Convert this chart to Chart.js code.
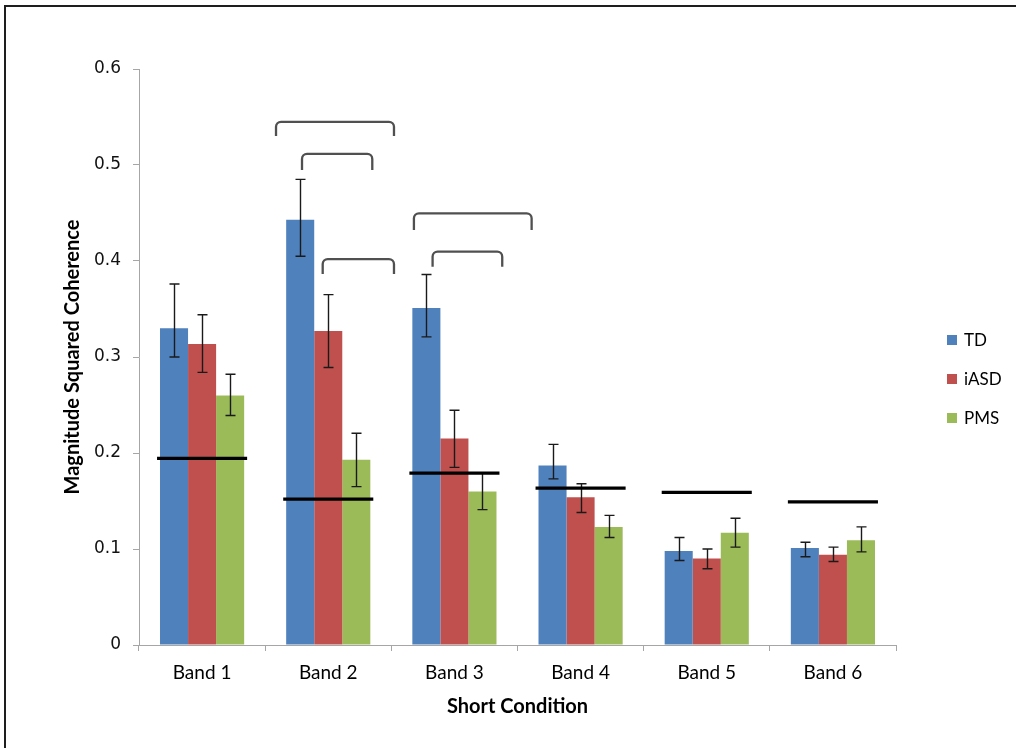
<!DOCTYPE html>
<html>
<head>
<meta charset="utf-8">
<script src="https://cdn.jsdelivr.net/npm/chart.js@4.4.1/dist/chart.umd.min.js"></script>
<style>
  html, body { margin: 0; padding: 0; background: #fff; overflow: hidden; }
  #wrap { position: relative; width: 1016px; height: 748px; }
  #c { position: absolute; left: 0; top: 0; }
  #frame {
    position: absolute; left: 4px; top: 5px; width: 1100px; height: 800px;
    border-left: 2px solid #1e1e1e; border-top: 2px solid #1e1e1e;
    pointer-events: none;
  }
</style>
</head>
<body>
<div id="wrap">
  <canvas id="c" width="1016" height="748"></canvas>
  <div id="frame"></div>
</div>
<script>
// Frequency bands (short condition)
const bands = ['Band 1', 'Band 2', 'Band 3', 'Band 4', 'Band 5', 'Band 6'];

// Group means of magnitude squared coherence
const tdMean   = [0.330, 0.443, 0.351, 0.187, 0.098, 0.101];
const iasdMean = [0.3135, 0.327, 0.215, 0.154, 0.090, 0.094];
const pmsMean  = [0.260, 0.193, 0.160, 0.123, 0.117, 0.109];

// Error bar limits (upper / lower)
const tdHigh   = [0.376, 0.485, 0.386, 0.209, 0.112, 0.107];
const tdLow    = [0.300, 0.405, 0.321, 0.173, 0.088, 0.092];
const iasdHigh = [0.344, 0.365, 0.2445, 0.168, 0.100, 0.102];
const iasdLow  = [0.284, 0.289, 0.185, 0.138, 0.0795, 0.087];
const pmsHigh  = [0.282, 0.2205, 0.179, 0.135, 0.132, 0.123];
const pmsLow   = [0.239, 0.165, 0.141, 0.112, 0.102, 0.097];

// Significance threshold per band
const threshold = [0.1945, 0.152, 0.179, 0.1635, 0.159, 0.149];

// Significance brackets: band index, start/end offset (in category widths), top value, leg end value
const bracketBand = [1, 1, 1, 2, 2];
const bracketFrom = [-0.414, -0.208, -0.044, -0.321, -0.173];
const bracketTo   = [0.521, 0.349, 0.521, 0.612, 0.379];
const bracketTop  = [0.545, 0.5115, 0.402, 0.4497, 0.4097];
const bracketLeg  = [0.5302, 0.4948, 0.3865, 0.4323, 0.394];

// Y axis tick values
const yTicks = [0, 0.1, 0.2, 0.3, 0.4, 0.5, 0.6];

const errLimits = [[tdHigh, tdLow], [iasdHigh, iasdLow], [pmsHigh, pmsLow]];

const errorBarPlugin = {
  id: 'errorBars',
  afterDatasetsDraw(chart) {
    const ctx = chart.ctx;
    const y = chart.scales.y;
    ctx.save();
    ctx.strokeStyle = '#1a1a1a';
    ctx.lineWidth = 1.4;
    chart.data.datasets.forEach((ds, i) => {
      const meta = chart.getDatasetMeta(i);
      const [hi, lo] = errLimits[i];
      meta.data.forEach((bar, j) => {
        const x = Math.round(bar.x) + 0.5;
        const yh = y.getPixelForValue(hi[j]);
        const yl = y.getPixelForValue(lo[j]);
        ctx.beginPath();
        ctx.moveTo(x, yh); ctx.lineTo(x, yl);
        ctx.moveTo(x - 5, yh); ctx.lineTo(x + 5, yh);
        ctx.moveTo(x - 5, yl); ctx.lineTo(x + 5, yl);
        ctx.stroke();
      });
    });

    // threshold segments across each bar group
    const xs = chart.scales.x;
    const cw = xs.getPixelForValue(1) - xs.getPixelForValue(0);
    ctx.strokeStyle = '#000';
    ctx.lineWidth = 3.2;
    threshold.forEach((v, j) => {
      const cx = xs.getPixelForValue(j);
      const yy = y.getPixelForValue(v);
      ctx.beginPath();
      ctx.moveTo(cx - cw * 0.357, yy);
      ctx.lineTo(cx + cw * 0.357, yy);
      ctx.stroke();
    });

    // significance brackets
    ctx.strokeStyle = '#505050';
    ctx.lineWidth = 2.3;
    ctx.lineJoin = 'round';
    bracketBand.forEach((b, k) => {
      const cx = xs.getPixelForValue(b);
      const x1 = cx + bracketFrom[k] * cw;
      const x2 = cx + bracketTo[k] * cw;
      const yt = y.getPixelForValue(bracketTop[k]);
      const yb = y.getPixelForValue(bracketLeg[k]);
      const r = 5;
      ctx.beginPath();
      ctx.moveTo(x1, yb);
      ctx.arcTo(x1, yt, x2, yt, r);
      ctx.arcTo(x2, yt, x2, yb, r);
      ctx.lineTo(x2, yb);
      ctx.stroke();
    });
    ctx.restore();
  },
  afterDraw(chart) {
    // legend on the right
    const ctx = chart.ctx;
    const a = chart.chartArea;
    ctx.save();
    ctx.font = '17px Lato';
    ctx.textBaseline = 'middle';
    chart.data.datasets.forEach((ds, i) => {
      const yc = a.top + 271 + i * 39;
      const xb = a.right + 51;
      ctx.fillStyle = ds.backgroundColor;
      ctx.fillRect(xb, yc - 5, 10, 10);
      ctx.fillStyle = '#000';
      ctx.fillText(ds.label, xb + 17, yc + 1);
    });
    ctx.restore();
  }
};

new Chart(document.getElementById('c'), {
  type: 'bar',
  data: {
    labels: bands,
    datasets: [
      { label: 'TD',   data: tdMean,   backgroundColor: '#4F81BD' },
      { label: 'iASD', data: iasdMean, backgroundColor: '#C0504D' },
      { label: 'PMS',  data: pmsMean,  backgroundColor: '#9BBB59' }
    ]
  },
  options: {
    responsive: false,
    animation: false,
    devicePixelRatio: 1,
    layout: { padding: { left: 10, right: 120, top: 69, bottom: 0 } },
    datasets: { bar: { categoryPercentage: 0.667, barPercentage: 1.0 } },
    plugins: { legend: { display: false }, tooltip: { enabled: false } },
    scales: {
      x: {
        grid: { display: true, drawOnChartArea: false, drawTicks: true, tickLength: 6, color: '#A6A6A6', offset: true },
        border: { color: '#A6A6A6' },
        ticks: { font: { family: 'Lato', size: 19 }, color: '#000', padding: 10 },
        title: { display: true, text: 'Short Condition', color: '#000',
                 font: { family: 'Lato', size: 20, weight: 'bold' }, padding: { top: 0, bottom: 29 } },
        afterFit(s) { s.height = 103; }
      },
      y: {
        min: yTicks[0], max: yTicks[yTicks.length - 1],
        afterBuildTicks(s) { s.ticks = yTicks.map(v => ({ value: v })); },
        ticks: {
          font: { family: 'DejaVu Sans', size: 17 }, color: '#111', padding: 12,
          callback: v => (v === 0 ? '0' : Number(v).toFixed(1))
        },
        grid: { drawOnChartArea: false, tickLength: 6, color: '#A6A6A6' },
        border: { color: '#A6A6A6' },
        title: { display: true, text: 'Magnitude Squared Coherence', color: '#000',
                 font: { family: 'Lato', size: 20, weight: 'bold' }, padding: { top: 51, bottom: 0 } },
        afterFit(s) { s.width = 129; }
      }
    }
  },
  plugins: [errorBarPlugin]
});
</script>
</body>
</html>
